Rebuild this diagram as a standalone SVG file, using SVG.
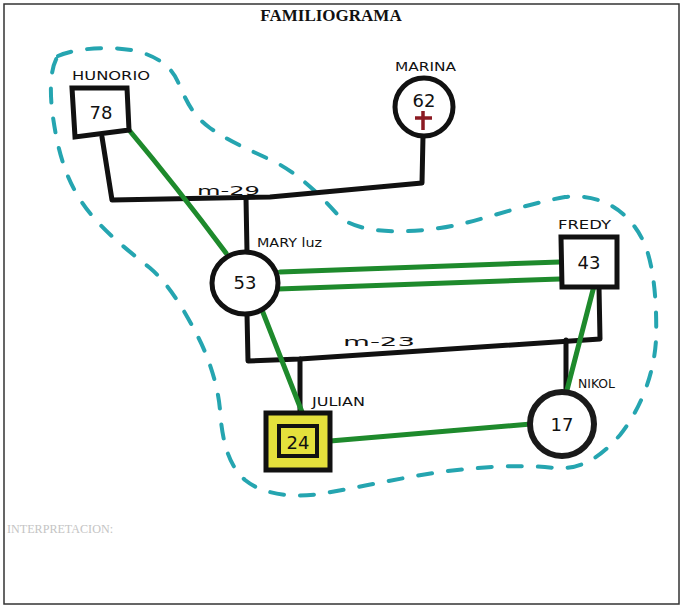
<svg xmlns="http://www.w3.org/2000/svg" width="685" height="607" viewBox="0 0 685 607">
<style>
.bk{fill:none;stroke:#111;stroke-width:5;stroke-linejoin:round;stroke-linecap:round}
.gr{fill:none;stroke:#1e8a2c;stroke-width:5;stroke-linecap:round}
.nd{fill:#fff;stroke:#111;stroke-width:5}
.num{font-family:"DejaVu Sans",sans-serif;font-size:18px;fill:#111;text-anchor:middle;dominant-baseline:central}
.lbl{font-family:"DejaVu Sans",sans-serif;font-size:13px;fill:#111}
.hull{fill:none;stroke:#25a5b0;stroke-width:4;stroke-dasharray:14 16;stroke-linecap:round}
</style>
<rect width="685" height="607" fill="#fff"/>
<rect x="4" y="4" width="675" height="600" fill="none" stroke="#333" stroke-width="1.5"/>
<text x="331" y="21" font-family="Liberation Serif,serif" font-size="17" font-weight="bold" text-anchor="middle" fill="#111">FAMILIOGRAMA</text>
<text x="7" y="533" font-family="Liberation Serif,serif" font-size="13" fill="#c4c4c4" textLength="106" lengthAdjust="spacingAndGlyphs">INTERPRETACION:</text>

<path class="hull" d="M58,56 C75,48 115,45 140,52 C160,58 172,68 178,82 C186,100 192,115 210,128 C230,142 250,150 275,162 C300,175 320,195 338,215 C355,233 400,234 440,228 C480,222 520,205 565,197 C600,193 630,210 645,245 C655,270 657,310 656,340 C654,375 640,410 620,435 C600,458 580,470 555,468 C520,464 480,467 440,472 C400,478 360,487 320,494 C290,498 262,494 245,480 C228,465 222,440 220,410 C218,385 208,355 196,333 C185,312 170,285 150,268 C125,248 95,225 78,196 C62,170 56,140 52,110 C50,90 50,68 58,56 Z"/>

<g id="connectors">
  <polyline class="bk" points="102,137 112,200 270,197 422,183 423,136"/>
  <polyline class="bk" points="246,198 247,252"/>
  <polyline class="bk" points="247,314 248,361 300,359 600,339 599,287"/>
  <polyline class="bk" points="300,359 300,413"/>
  <polyline class="bk" points="566,340 566,390"/>
  <path class="gr" d="M129,130 Q176,186 226,253"/>
  <path class="gr" d="M280,272 L560,262"/>
  <path class="gr" d="M278,289 L560,279"/>
  <path class="gr" d="M262,310 L302,412"/>
  <path class="gr" d="M594,286 L567,390"/>
  <path class="gr" d="M330,441 L531,424"/>
</g>

<g id="honorio">
  <polygon class="nd" points="72,88 127,88 129,130 75,137"/>
  <text class="num" x="101" y="112">78</text>
  <text class="lbl" x="72" y="80" font-size="15" textLength="78" lengthAdjust="spacingAndGlyphs">HUNORIO</text>
</g>

<g id="marina">
  <circle class="nd" cx="424" cy="107" r="29"/>
  <text class="num" x="424" y="100" font-size="14">62</text>
  <path d="M423,111 V130 M415,118 H432" stroke="#8b1a22" stroke-width="3.5" fill="none"/>
  <text class="lbl" x="395" y="71" font-size="11" textLength="61" lengthAdjust="spacingAndGlyphs">MARINA</text>
</g>

<g id="maryluz">
  <ellipse class="nd" cx="245" cy="283" rx="33" ry="31"/>
  <text class="num" x="245" y="282">53</text>
  <text class="lbl" x="257" y="247" textLength="65" lengthAdjust="spacingAndGlyphs">MARY luz</text>
</g>

<g id="fredy">
  <polygon class="nd" points="561,237 617,237 617,287 562,287"/>
  <text class="num" x="589" y="262">43</text>
  <text class="lbl" x="558" y="229" textLength="53" lengthAdjust="spacingAndGlyphs">FREDY</text>
</g>

<g id="julian">
  <rect x="266" y="413" width="64" height="57" fill="#e4e03c" stroke="#111" stroke-width="5"/>
  <rect x="279" y="426" width="38" height="30" fill="#e4e03c" stroke="#111" stroke-width="4"/>
  <text class="num" x="298" y="442" font-size="15">24</text>
  <text class="lbl" x="312" y="406" font-size="12" textLength="53" lengthAdjust="spacingAndGlyphs">JULIAN</text>
</g>

<g id="nikol">
  <circle cx="562" cy="424" r="32" fill="#fff" stroke="#1a1a1a" stroke-width="6"/>
  <text class="num" x="562" y="424" font-size="20">17</text>
  <text class="lbl" x="578" y="388" font-size="11" textLength="37" lengthAdjust="spacingAndGlyphs">NIKOL</text>
</g>

<g id="labels">
  <text class="lbl" x="197" y="195" font-size="18" textLength="63" lengthAdjust="spacingAndGlyphs">m-29</text>
  <text class="lbl" x="343" y="346" font-size="22" textLength="72" lengthAdjust="spacingAndGlyphs">m-23</text>
</g>
</svg>
